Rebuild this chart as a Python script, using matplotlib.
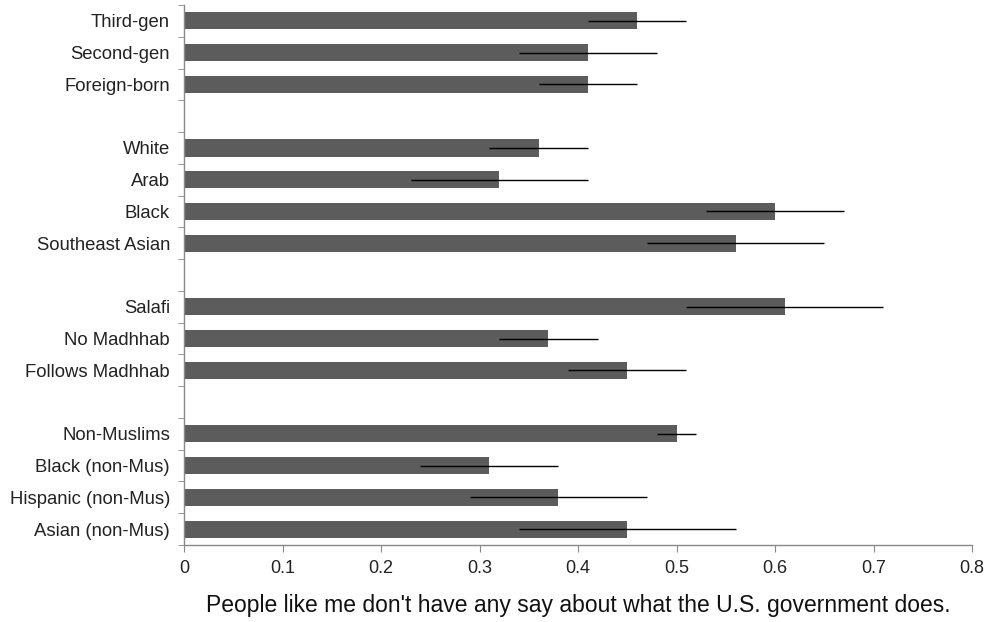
import numpy as np
import matplotlib
matplotlib.use("Agg")
import matplotlib.pyplot as plt
from matplotlib.ticker import FixedLocator

plt.rcParams['font.family'] = ['Liberation Sans', 'DejaVu Sans']

# groups of categories, top to bottom, separated by a blank row
generation = ["Third-gen", "Second-gen", "Foreign-born"]
generation_vals = [0.46, 0.41, 0.41]
generation_err = [0.05, 0.07, 0.05]

ethnicity = ["White", "Arab", "Black", "Southeast Asian"]
ethnicity_vals = [0.36, 0.32, 0.60, 0.56]
ethnicity_err = [0.05, 0.09, 0.07, 0.09]

madhhab = ["Salafi", "No Madhhab", "Follows Madhhab"]
madhhab_vals = [0.61, 0.37, 0.45]
madhhab_err = [0.10, 0.05, 0.06]

non_muslim = ["Non-Muslims", "Black (non-Mus)", "Hispanic (non-Mus)", "Asian (non-Mus)"]
non_muslim_vals = [0.50, 0.31, 0.38, 0.45]
non_muslim_err = [0.02, 0.07, 0.09, 0.11]

groups = [
    (generation, generation_vals, generation_err),
    (ethnicity, ethnicity_vals, ethnicity_err),
    (madhhab, madhhab_vals, madhhab_err),
    (non_muslim, non_muslim_vals, non_muslim_err),
]

labels, vals, errs, pos = [], [], [], []
row = 0
for names, v, e in groups:
    for n, x, er in zip(names, v, e):
        labels.append(n)
        vals.append(x)
        errs.append(er)
        pos.append(row)
        row += 1
    row += 1  # blank row between groups
n_rows = row - 1

fig = plt.figure(figsize=(9.95, 6.22), dpi=100)
ax = fig.add_axes([184 / 995, 1 - 545 / 622, (972 - 184) / 995, (545 - 5) / 622])

ax.barh(pos, vals, height=0.54, color="#5c5c5c", zorder=2)
ax.errorbar(vals, pos, xerr=errs, fmt="none", ecolor="black", elinewidth=1.0,
            capsize=0, zorder=3)

ax.set_xlim(0, 0.8)
ax.set_ylim(n_rows - 0.5, -0.5)
ax.set_xticks(np.arange(0, 0.81, 0.1))
ax.set_xticklabels(["0", "0.1", "0.2", "0.3", "0.4", "0.5", "0.6", "0.7", "0.8"], fontsize=13)
ax.set_yticks(pos)
ax.set_yticklabels(labels, fontsize=13.3)
ax.yaxis.set_minor_locator(FixedLocator(np.arange(-0.5, n_rows, 1.0)))
ax.tick_params(axis="y", which="major", length=0, pad=10, labelcolor="#222222")
ax.tick_params(axis="y", which="minor", length=4, color="#888888")
ax.tick_params(axis="x", length=5, color="#888888", pad=6, labelcolor="#222222")

for side in ("top", "right"):
    ax.spines[side].set_visible(False)
for side in ("left", "bottom"):
    ax.spines[side].set_color("#888888")
    ax.spines[side].set_linewidth(1.0)

ax.set_xlabel("People like me don't have any say about what the U.S. government does.",
              fontsize=16.5, labelpad=12, color="#111111")

fig.savefig("out.png", dpi=100)
